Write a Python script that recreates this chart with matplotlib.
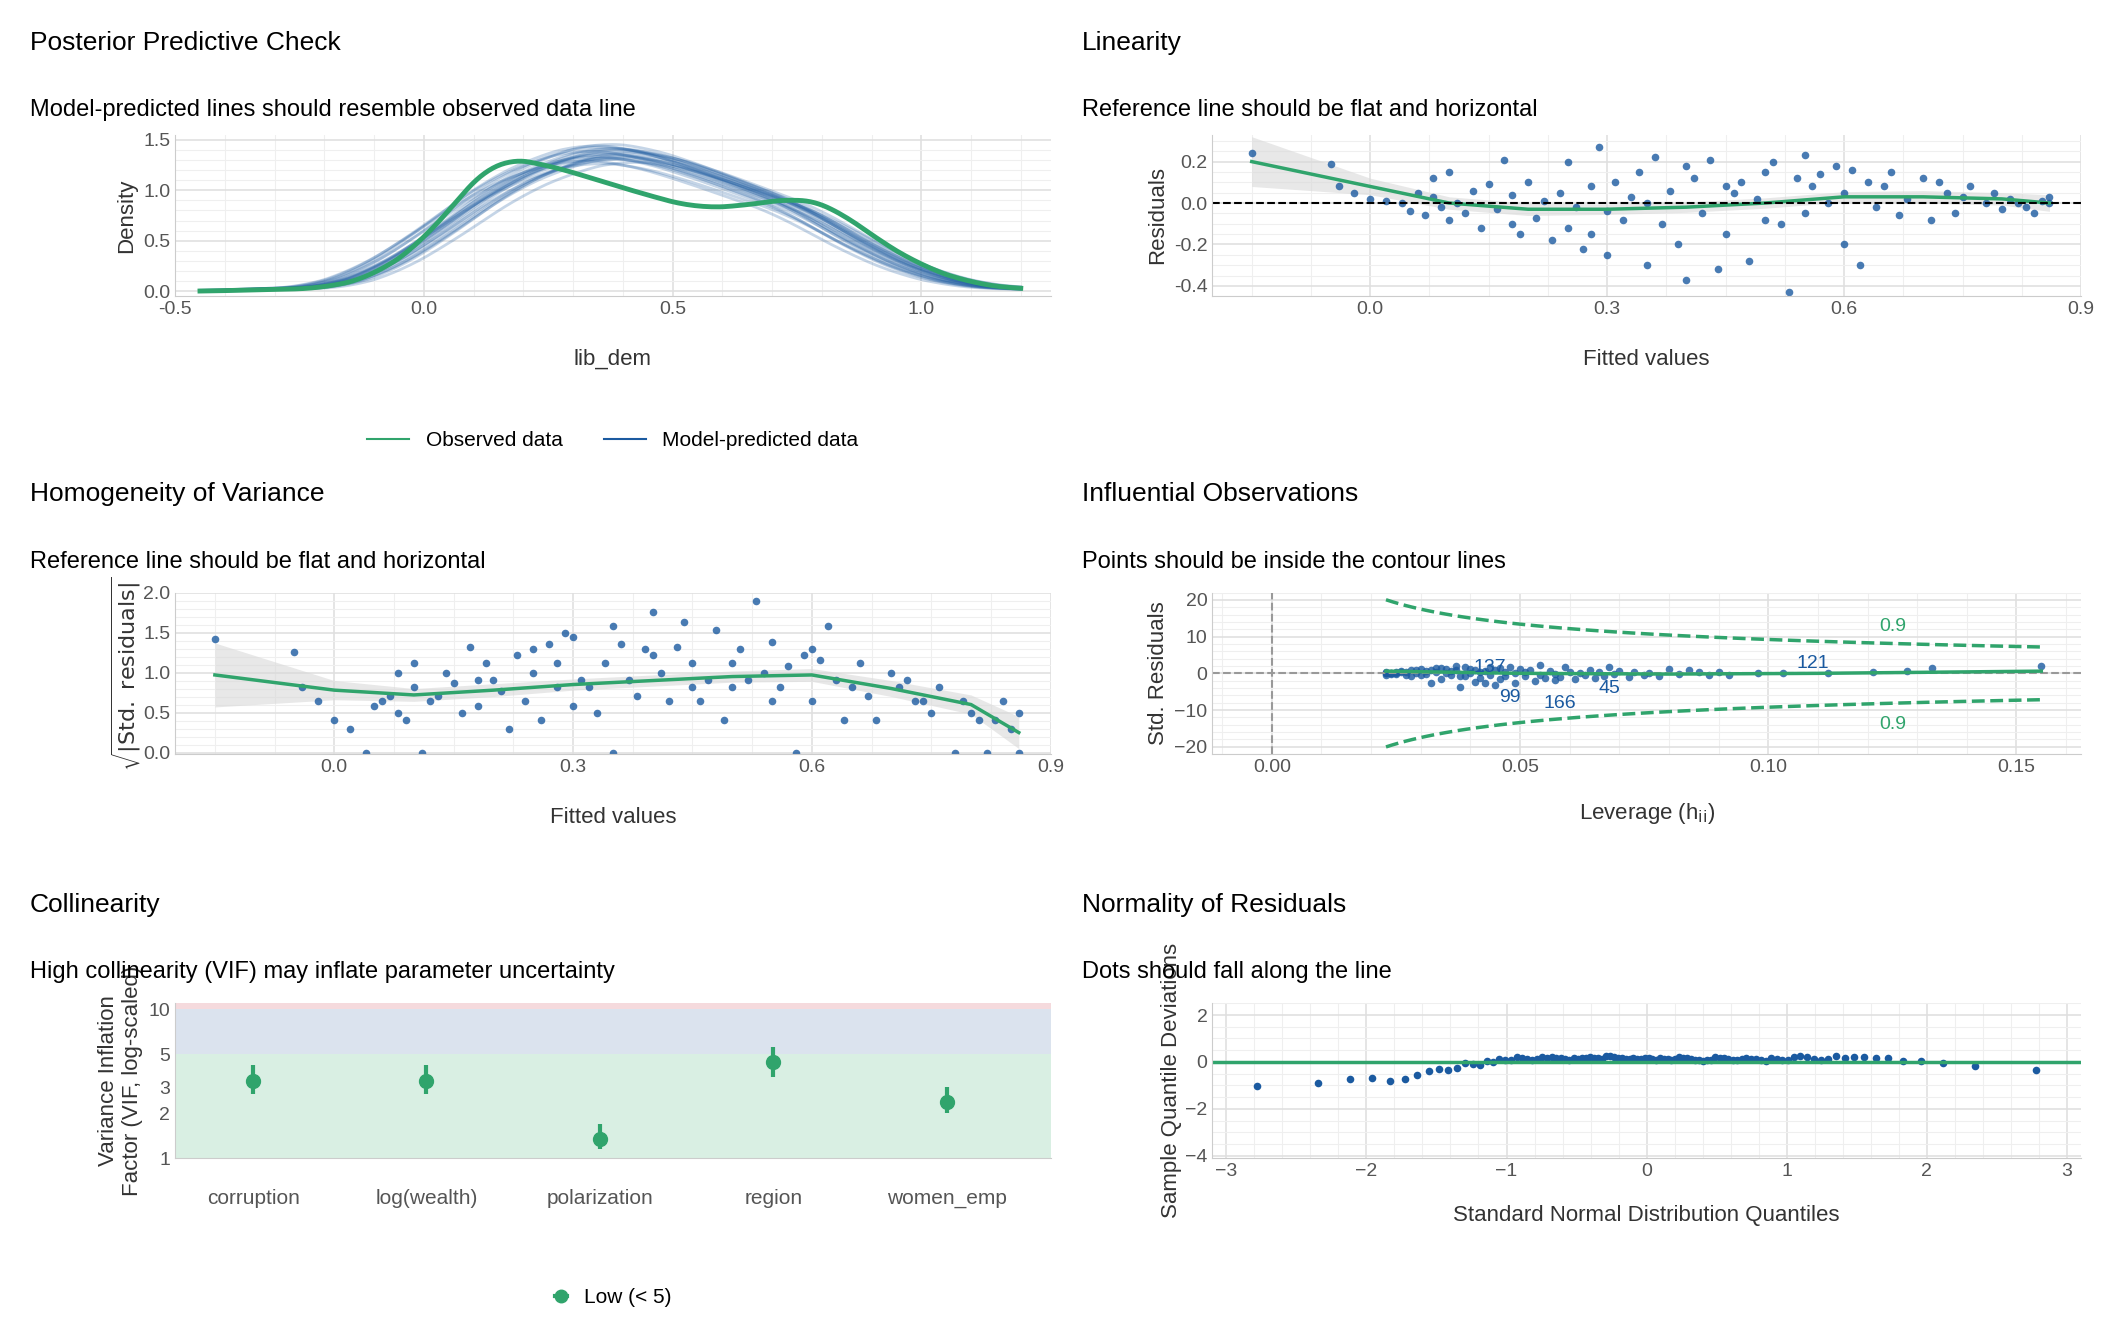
import numpy as np
import matplotlib
matplotlib.use("Agg")
import matplotlib.pyplot as plt
from matplotlib.lines import Line2D
from statistics import NormalDist

plt.rcParams['font.family'] = ['Liberation Sans', 'DejaVu Sans']

BLUE = "#1b5aa0"
GREEN = "#30a46c"
GRID = "#e0e0e0"

# ---- data ----
dens_x = [-0.45, -0.2, -0.1, 0.0, 0.1, 0.15, 0.25, 0.35, 0.45, 0.55, 0.65, 0.75, 0.82, 0.9, 1.0, 1.1, 1.2]
obs_dens = [0.0, 0.03, 0.15, 0.5, 1.1, 1.33, 1.25, 1.1, 0.95, 0.82, 0.85, 0.93, 0.85, 0.55, 0.25, 0.08, 0.02]
pred_dens = [0.0, 0.04, 0.2, 0.5, 0.85, 1.02, 1.25, 1.38, 1.33, 1.18, 1.0, 0.82, 0.62, 0.4, 0.18, 0.06, 0.02]
pred_shift = [-0.05, -0.04, -0.03, -0.02, -0.01, 0.0, 0.0, 0.01, 0.02, 0.03, 0.04, 0.05, -0.03, 0.02, 0.01, -0.01,
              0.0, -0.02, 0.03, 0.01]
pred_scale = [0.95, 1.02, 0.98, 1.05, 0.97, 1.0, 1.04, 0.96, 1.03, 0.99, 1.01, 0.94, 1.06, 0.98, 1.02, 1.0,
              1.07, 0.93, 0.97, 1.04]

fitted = [-0.15,-0.05,-0.04,-0.02,0.0,0.02,0.04,0.05,0.06,0.07,
          0.08,0.08,0.09,0.1,0.1,0.11,0.12,0.13,0.14,0.15,
          0.16,0.17,0.18,0.18,0.19,0.2,0.21,0.22,0.23,0.24,
          0.25,0.25,0.26,0.27,0.28,0.28,0.29,0.3,0.3,0.31,
          0.32,0.33,0.34,0.35,0.35,0.36,0.37,0.38,0.39,0.4,
          0.4,0.41,0.42,0.43,0.44,0.45,0.45,0.46,0.47,0.48,
          0.49,0.5,0.5,0.51,0.52,0.53,0.54,0.55,0.55,0.56,
          0.57,0.58,0.59,0.6,0.6,0.61,0.62,0.63,0.64,0.65,
          0.66,0.67,0.68,0.7,0.71,0.72,0.73,0.74,0.75,0.76,
          0.78,0.79,0.8,0.81,0.82,0.83,0.84,0.85,0.86,0.86]
resid = [0.24,0.19,0.08,0.05,0.02,0.01,0.0,-0.04,0.05,-0.06,
         0.03,0.12,-0.02,0.15,-0.08,0.0,-0.05,0.06,-0.12,0.09,
         -0.03,0.21,-0.1,0.04,-0.15,0.1,-0.07,0.01,-0.18,0.05,
         0.2,-0.12,-0.02,-0.22,0.08,-0.15,0.27,-0.04,-0.25,0.1,
         -0.08,0.03,0.15,-0.3,0.0,0.22,-0.1,0.06,-0.2,0.18,
         -0.37,0.12,-0.05,0.21,-0.32,0.08,-0.15,0.05,0.1,-0.28,
         0.02,0.15,-0.08,0.2,-0.1,-0.43,0.12,0.23,-0.05,0.08,
         0.14,0.0,0.18,-0.2,0.05,0.16,-0.3,0.1,-0.02,0.08,
         0.15,-0.06,0.02,0.12,-0.08,0.1,0.05,-0.05,0.03,0.08,
         0.0,0.05,-0.03,0.02,0.0,-0.02,-0.05,0.01,0.03,0.0]
leverage = [0.155,0.133,0.128,0.121,0.112,0.103,0.098,0.092,0.09,0.088,
            0.086,0.084,0.082,0.08,0.078,0.076,0.075,0.073,0.072,0.07,
            0.069,0.068,0.067,0.066,0.065,0.064,0.063,0.062,0.061,0.06,
            0.059,0.058,0.057,0.057,0.056,0.055,0.054,0.054,0.053,0.052,
            0.051,0.051,0.05,0.049,0.049,0.048,0.047,0.047,0.046,0.046,
            0.045,0.045,0.044,0.044,0.043,0.043,0.042,0.042,0.041,0.041,
            0.04,0.04,0.039,0.039,0.038,0.038,0.037,0.037,0.036,0.036,
            0.035,0.035,0.034,0.034,0.033,0.033,0.032,0.032,0.031,0.031,
            0.03,0.03,0.029,0.029,0.028,0.028,0.027,0.027,0.026,0.026,
            0.025,0.025,0.025,0.024,0.024,0.024,0.023,0.023,0.023,0.023]
resid_sd = 0.12
outlier_idx = [65, 50, 54, 43, 5]
outlier_ids = ["166", "99", "45", "137", "121"]
label_dx = [0.02, 0.003, 0.025, -0.005, 0.006]
label_dy = [-4.5, -3.5, -1.5, 4.0, 2.5]

smooth_x = [-0.15, 0.0, 0.1, 0.2, 0.3, 0.4, 0.5, 0.6, 0.7, 0.8, 0.86]
lin_smooth = [0.2, 0.08, 0.0, -0.03, -0.03, -0.02, 0.0, 0.03, 0.03, 0.02, 0.0]
lin_band = [0.12, 0.04, 0.03, 0.03, 0.025, 0.025, 0.025, 0.025, 0.03, 0.03, 0.04]
hom_smooth = [0.97, 0.78, 0.72, 0.78, 0.85, 0.9, 0.95, 0.97, 0.8, 0.6, 0.25]
hom_band = [0.4, 0.12, 0.08, 0.08, 0.07, 0.07, 0.07, 0.08, 0.1, 0.12, 0.2]
lev_smooth_x = [0.023, 0.05, 0.08, 0.11, 0.155]
lev_smooth = [0.6, 0.0, -0.2, 0.0, 0.6]

vif_terms = ["corruption", "log(wealth)", "polarization", "region", "women_emp"]
vif = [3.3, 3.3, 1.35, 4.4, 2.4]
vif_lo = [2.7, 2.7, 1.15, 3.5, 2.0]
vif_hi = [4.2, 4.2, 1.7, 5.6, 3.0]

TICK = 14
LAB = 16


def style(ax):
    ax.grid(True, color=GRID, lw=1.2)
    ax.minorticks_on()
    ax.grid(True, which="minor", color="#efefef", lw=0.8)
    for s in ["top", "right"]:
        ax.spines[s].set_visible(False)
    for s in ["left", "bottom"]:
        ax.spines[s].set_color("#cccccc")
    ax.tick_params(which="both", length=0, labelsize=TICK, labelcolor="#555555")
    ax.set_axisbelow(True)


def smooth(y, k=9):
    y = np.asarray(y)
    pad = np.r_[np.full(k, y[0]), y, np.full(k, y[-1])]
    return np.convolve(pad, np.ones(k) / k, mode="same")[k:-k]


fig = plt.figure(figsize=(21.12, 13.44), dpi=100)
W, H = 1568, 998


def axes(x0, y0, x1, y1):
    return fig.add_axes([x0 / W, 1 - y1 / H, (x1 - x0) / W, (y1 - y0) / H])


def titles(x, y, t, s):
    fig.text(x / W, 1 - y / H, t, fontsize=19, va="center")
    fig.text(x / W, 1 - (y + 50) / H, s, fontsize=17, va="center")


titles(22, 32, "Posterior Predictive Check", "Model-predicted lines should resemble observed data line")
titles(803, 32, "Linearity", "Reference line should be flat and horizontal")
titles(22, 367, "Homogeneity of Variance", "Reference line should be flat and horizontal")
titles(803, 367, "Influential Observations", "Points should be inside the contour lines")
titles(22, 672, "Collinearity", "High collinearity (VIF) may inflate parameter uncertainty")
titles(803, 672, "Normality of Residuals", "Dots should fall along the line")

# ---- PPC ----
ax = axes(130, 100, 780, 220)
style(ax)
gx = np.linspace(-0.45, 1.2, 200)
for sh, sc in zip(pred_shift, pred_scale):
    ax.plot(gx, smooth(np.interp(gx - sh, dens_x, pred_dens) * sc, 15), color=BLUE, alpha=0.25, lw=2)
ax.plot(gx, smooth(np.interp(gx, dens_x, obs_dens), 15), color=GREEN, lw=3.5)
ax.set_xlim(-0.5, 1.26)
ax.set_ylim(-0.05, 1.55)
ax.set_xticks([-0.5, 0, 0.5, 1.0], ["-0.5", "0.0", "0.5", "1.0"])
ax.set_yticks([0, 0.5, 1.0, 1.5], ["0.0", "0.5", "1.0", "1.5"])
ax.set_xlabel("lib_dem", fontsize=LAB, color="#333333", labelpad=22)
ax.set_ylabel("Density", fontsize=LAB, color="#333333")
ax.legend([Line2D([], [], color=GREEN, lw=1.5), Line2D([], [], color=BLUE, lw=1.5)],
          ["Observed data", "Model-predicted data"], loc="upper center",
          bbox_to_anchor=(0.5, -0.72), ncol=2, frameon=False, fontsize=15)

# ---- Linearity ----
ax = axes(900, 100, 1545, 220)
style(ax)
ax.fill_between(smooth_x, np.subtract(lin_smooth, lin_band), np.add(lin_smooth, lin_band), color="#d9d9d9", alpha=0.6, lw=0)
ax.scatter(fitted, resid, s=30, color=BLUE, alpha=0.8, lw=0)
ax.plot(smooth_x, lin_smooth, color=GREEN, lw=2.5)
ax.axhline(0, color="black", ls="--", lw=1.5)
ax.set_xlim(-0.2, 0.9)
ax.set_ylim(-0.45, 0.33)
ax.set_xticks([0, 0.3, 0.6, 0.9], ["0.0", "0.3", "0.6", "0.9"])
ax.set_yticks([-0.4, -0.2, 0, 0.2], ["-0.4", "-0.2", "0.0", "0.2"])
ax.set_xlabel("Fitted values", fontsize=LAB, color="#333333", labelpad=22)
ax.set_ylabel("Residuals", fontsize=LAB, color="#333333")

# ---- Homogeneity ----
ax = axes(130, 440, 780, 560)
style(ax)
sq = np.sqrt(np.abs(np.array(resid)) / resid_sd)
ax.fill_between(smooth_x, np.subtract(hom_smooth, hom_band), np.add(hom_smooth, hom_band), color="#d9d9d9", alpha=0.6, lw=0)
ax.scatter(fitted, sq, s=30, color=BLUE, alpha=0.8, lw=0)
ax.plot(smooth_x, hom_smooth, color=GREEN, lw=2.5)
ax.set_xlim(-0.2, 0.9)
ax.set_ylim(-0.02, 2.0)
ax.set_xticks([0, 0.3, 0.6, 0.9], ["0.0", "0.3", "0.6", "0.9"])
ax.set_yticks([0, 0.5, 1.0, 1.5, 2.0], ["0.0", "0.5", "1.0", "1.5", "2.0"])
ax.set_xlabel("Fitted values", fontsize=LAB, color="#333333", labelpad=22)
ax.set_ylabel(r"$\sqrt{|\mathrm{Std.\ residuals}|}$", fontsize=LAB, color="#333333", labelpad=0)

# ---- Influential ----
ax = axes(900, 440, 1545, 560)
style(ax)
std_res = np.array(resid) / resid_sd
hh = np.linspace(0.023, 0.155, 100)
cook = np.sqrt(0.9 * 10.5 * (1 - hh) / hh)
ax.plot(hh, cook, color=GREEN, ls="--", lw=2.5)
ax.plot(hh, -cook, color=GREEN, ls="--", lw=2.5)
ax.text(0.125, 11.5, "0.9", color=GREEN, fontsize=14, ha="center")
ax.text(0.125, -11.5, "0.9", color=GREEN, fontsize=14, ha="center", va="top")
ax.axvline(0, color="#999999", ls="--", lw=1.5)
ax.axhline(0, color="#999999", ls="--", lw=1.5)
ax.scatter(leverage, std_res, s=30, color=BLUE, alpha=0.8, lw=0)
ax.plot(lev_smooth_x, lev_smooth, color=GREEN, lw=2.5)
for i, lab, dx, dy in zip(outlier_idx, outlier_ids, label_dx, label_dy):
    ax.text(leverage[i] + dx, std_res[i] + dy, lab, color=BLUE, fontsize=14, ha="center", va="center")
ax.set_xlim(-0.012, 0.163)
ax.set_ylim(-22, 22)
ax.set_xticks([0, 0.05, 0.1, 0.15], ["0.00", "0.05", "0.10", "0.15"])
ax.set_yticks([-20, -10, 0, 10, 20])
ax.set_xlabel(r"Leverage (h$_{\mathrm{ii}}$)", fontsize=LAB, color="#333333", labelpad=18)
ax.set_ylabel("Std. Residuals", fontsize=LAB, color="#333333")

# ---- Collinearity ----
ax = axes(130, 745, 780, 860)
style(ax)
ax.set_yscale("log")
ax.axhspan(1, 5, color="#d9efe3", lw=0)
ax.axhspan(5, 10, color="#dbe3ee", lw=0)
ax.axhspan(10, 12, color="#f5dadd", lw=0)
xs = np.arange(len(vif_terms))
ax.errorbar(xs, vif, yerr=[np.subtract(vif, vif_lo), np.subtract(vif_hi, vif)], fmt="o",
            color=GREEN, ms=10, elinewidth=3, capsize=0)
ax.set_xlim(-0.45, 4.6)
ax.set_ylim(1, 11)
ax.set_xticks(xs, vif_terms)
ax.set_yticks([1, 2, 3, 5, 10], ["1", "2", "3", "5", "10"])
ax.minorticks_off()
ax.grid(True, color="#c8c8c8", lw=1.4, axis="x")
ax.grid(True, color="#ffffff", lw=0.8, alpha=0.6, axis="y")
ax.tick_params(axis="x", labelsize=15, pad=22)
ax.set_ylabel("Variance Inflation\nFactor (VIF, log-scaled)", fontsize=LAB, color="#333333")
ax.legend([Line2D([], [], color=GREEN, marker="o", ms=9, lw=3)], ["Low (< 5)"],
          loc="upper center", bbox_to_anchor=(0.5, -0.72), frameon=False, fontsize=15,
          handlelength=0.6)

# ---- QQ ----
ax = axes(900, 745, 1545, 860)
style(ax)
z = np.sort(np.array(resid) / resid_sd)
n = len(z)
q = np.array([NormalDist().inv_cdf((i + 0.5) / n) for i in range(n)])
ax.axhline(0, color=GREEN, lw=2.5)
ax.scatter(q * 1.08, z - q, s=30, color=BLUE, lw=0)
ax.set_xlim(-3.1, 3.1)
ax.set_ylim(-4.1, 2.5)
ax.set_yticks([-4, -2, 0, 2])
ax.set_xticks([-3, -2, -1, 0, 1, 2, 3])
ax.set_xlabel("Standard Normal Distribution Quantiles", fontsize=LAB, color="#333333", labelpad=18)
ax.set_ylabel("Sample Quantile Deviations", fontsize=LAB, color="#333333", labelpad=2)

fig.savefig("out.png", dpi=100)
